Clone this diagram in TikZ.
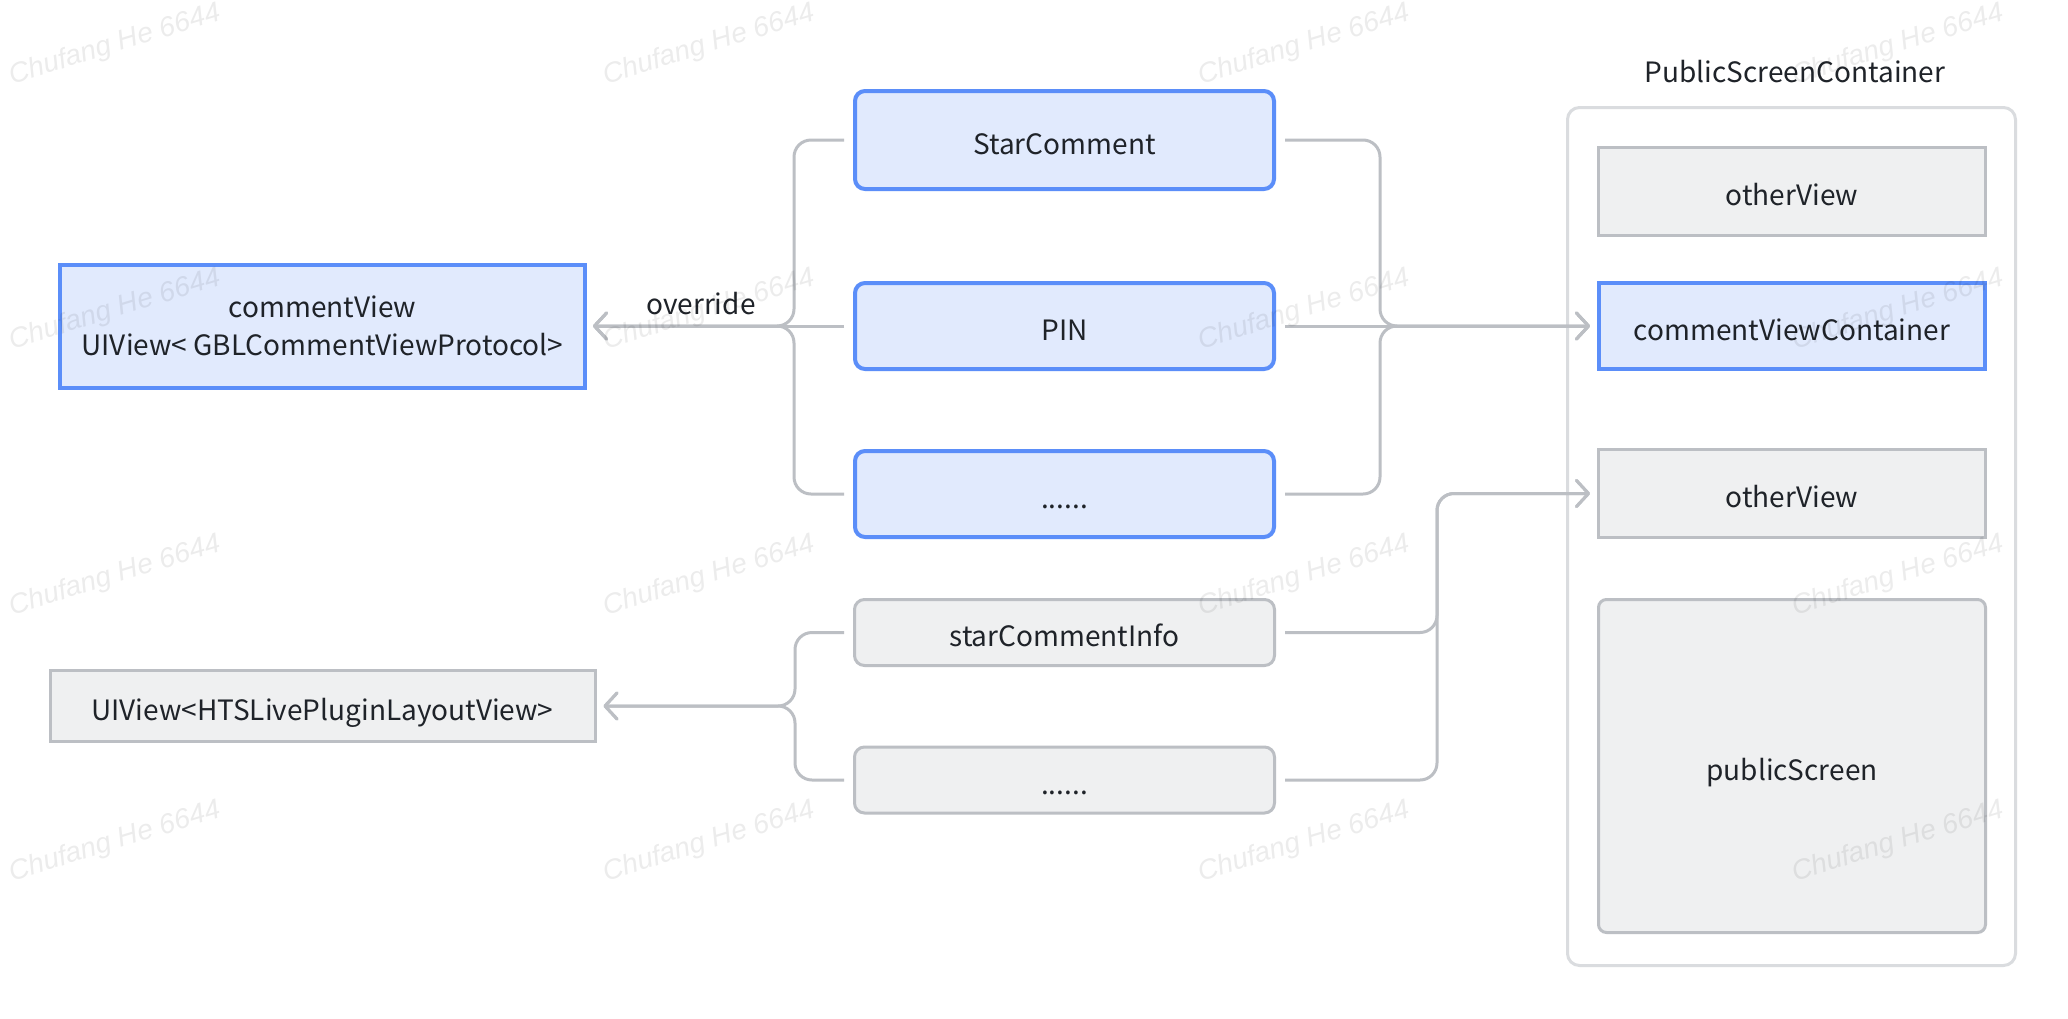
\documentclass[tikz,border=0pt]{standalone}
\usepackage{fontspec}
\setmainfont{Noto Sans CJK SC}
\newfontfamily\wmfont{Liberation Sans}
\usetikzlibrary{arrows.meta,positioning}

\definecolor{cblue}{HTML}{5B8EF9}
\definecolor{cbluebg}{HTML}{E1EAFD}
\definecolor{cgray}{HTML}{BCBFC4}
\definecolor{cgraybg}{HTML}{EFF0F1}
\definecolor{cframe}{HTML}{DADCDF}
\definecolor{ctext}{HTML}{1F2329}

\newcommand{\boxfont}{\fontsize{14pt}{19pt}\selectfont}

\tikzset{
  oneline/.style={text height=14pt, text depth=0pt},
  blueitem/.style={draw=cblue, fill=cbluebg, line width=2pt, rounded corners=5pt,
    minimum width=209.5pt, minimum height=43pt, inner sep=0pt, oneline},
  grayitem/.style={draw=cgray, fill=cgraybg, line width=1.5pt, rounded corners=5pt,
    minimum width=210pt, minimum height=33pt, inner sep=0pt, oneline},
  bluebox/.style={draw=cblue, fill=cbluebg, line width=2pt, inner sep=0pt},
  graybox/.style={draw=cgray, fill=cgraybg, line width=1.5pt, inner sep=0pt, oneline},
  link/.style={draw=cgray, line width=1.5pt, rounded corners=8.5pt,
    -{Straight Barb[length=6pt,width=13pt,round]}},
  wmark/.style={font=\wmfont\itshape\fontsize{14pt}{14pt}\selectfont,
    text=black, text opacity=0.075, rotate=17, inner sep=0pt}
}

\begin{document}
\begin{tikzpicture}[x=0.5pt, y=-0.5pt, node distance=93pt, font=\boxfont, text=ctext]
    \path[fill=white, use as bounding box] (0,0) rectangle (2068,1018);

    % container on the right
    \node (container) [draw=cframe, line width=1.5pt, rounded corners=6pt, fill=white,
        minimum width=224pt, minimum height=429pt] at (1791.5,536.5) {};
    \node (title) at (1795,72) {PublicScreenContainer};

    % middle column
    \node (SC) [blueitem, minimum height=49pt] at (1064.5,140) {StarComment};
    \node (PIN) [blueitem, below of=SC] {PIN};
    \node (more1) [blueitem, below of=PIN, yshift=9pt] {......};
    \node (info) [grayitem, below of=more1, yshift=23.75pt] {starCommentInfo};
    \node (more2) [grayitem, below of=info, yshift=19.25pt] {......};

    % left column
    \node (cview) [bluebox, left of=PIN, node distance=371pt, align=center,
        minimum width=262.5pt, minimum height=61.5pt] {commentView\\UIView< GBLCommentViewProtocol>};
    \node (layout) [graybox, below of=cview, node distance=190pt,
        minimum width=272.5pt, minimum height=35.5pt] {UIView<HTSLivePluginLayoutView>};

    % views in the container
    \node (cvc) [bluebox, oneline, right of=PIN, node distance=363.75pt,
        minimum width=193pt, minimum height=43pt] {commentViewContainer};
    \node (other1) [graybox, above of=cvc, node distance=67.25pt,
        minimum width=193.5pt, minimum height=44pt] {otherView};
    \node (other2) [graybox, below of=cvc, node distance=83.75pt,
        minimum width=193.5pt, minimum height=44pt] {otherView};
    \node (pscreen) [graybox, rounded corners=4pt, below of=other2, node distance=136.25pt,
        minimum width=193.5pt, minimum height=166.5pt] {publicScreen};

    \coordinate (lhub) at (794,326);
    \coordinate (lhub2) at (795,706);
    \coordinate (rhub) at (1380,326);
    \coordinate (rhub2) at (1437,493.5);

    \draw[link] ([xshift=-4.5pt]SC.west) -| (lhub) -- ([xshift=3pt]cview.east);
    \draw[link] ([xshift=-4.5pt]PIN.west) -- node[above=5pt, pos=0.57, inner sep=0pt] {override} ([xshift=3pt]cview.east);
    \draw[link] ([xshift=-4.5pt]more1.west) -| (lhub) -- ([xshift=3pt]cview.east);
    \draw[link] ([xshift=-4.5pt]info.west) -| (lhub2) -- ([xshift=3.5pt]layout.east);
    \draw[link] ([xshift=-4.5pt]more2.west) -| (lhub2) -- ([xshift=3.5pt]layout.east);

    \draw[link] ([xshift=4.5pt]SC.east) -| (rhub) -- ([xshift=-3.5pt]cvc.west);
    \draw[link] ([xshift=4.5pt]PIN.east) -- ([xshift=-3.5pt]cvc.west);
    \draw[link] ([xshift=4.5pt]more1.east) -| (rhub) -- ([xshift=-3.5pt]cvc.west);
    \draw[link] ([xshift=4.5pt]info.east) -| (rhub2) -- ([xshift=-3.5pt]other2.west);
    \draw[link] ([xshift=4.5pt]more2.east) -| (rhub2) -- ([xshift=-3.5pt]other2.west);

    % watermark
    \foreach \wx in {115,709,1304,1898}
        \foreach \wy in {45,310,576,842}
            \node (wm-\wx-\wy) [wmark] at (\wx,\wy) {Chufang He 6644};
\end{tikzpicture}
\end{document}
